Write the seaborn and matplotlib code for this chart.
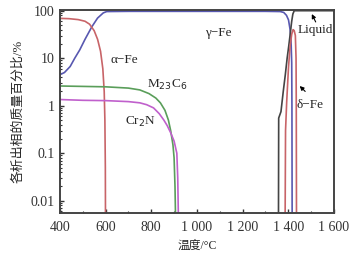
import numpy as np
import pandas as pd
import seaborn as sns
import matplotlib.pyplot as plt
from matplotlib.ticker import FixedLocator, FixedFormatter, LogLocator, NullFormatter

# Temperaturas (°C) e frações mássicas (%)
gamma_t = [400, 420, 445, 465, 487, 510, 540, 565, 590, 605, 700, 1000, 1300, 1365, 1380, 1392, 1401, 1408, 1412, 1415, 1416, 1417]
gamma_v = [4.5, 5.0, 6.7, 10, 15, 25, 46, 70, 90, 96, 97, 97, 97, 96, 92, 80, 64, 40, 24, 8, 1, 0.003]

alpha_t = [400, 440, 480, 510, 530, 550, 565, 578, 588, 594, 597, 599, 600]
alpha_v = [69, 68, 65, 60, 52, 38, 25, 14, 6, 2, 0.5, 0.05, 0.001]

m23_t = [400, 500, 600, 700, 750, 790, 820, 840, 860, 875, 885, 895, 900, 904, 907]
m23_v = [2.6, 2.55, 2.5, 2.35, 2.15, 1.8, 1.45, 1.15, 0.8, 0.5, 0.3, 0.15, 0.08, 0.02, 0.003]

cr2n_t = [400, 500, 600, 700, 750, 780, 810, 835, 855, 870, 885, 900, 912, 916, 919]
cr2n_v = [1.35, 1.3, 1.28, 1.22, 1.15, 1.05, 0.9, 0.68, 0.5, 0.38, 0.27, 0.18, 0.1, 0.03, 0.004]

liq_t = [1357, 1358, 1368, 1378, 1387, 1395, 1402, 1409, 1415, 1420, 1426, 1600]
liq_v = [0.003, 0.55, 0.75, 2, 4.5, 10, 18, 34, 60, 85, 100, 100]

delta_t = [1386, 1388, 1393, 1401, 1408, 1415, 1421, 1426, 1431, 1434, 1435, 1436]
delta_v = [0.003, 0.3, 1.2, 6.5, 18, 32, 40, 38, 30, 10, 1, 0.003]

series = [
    (gamma_t, gamma_v, "#5858b0"),
    (alpha_t, alpha_v, "#c86468"),
    (m23_t, m23_v, "#5a9e5a"),
    (cr2n_t, cr2n_v, "#c060cc"),
    (liq_t, liq_v, "#444444"),
    (delta_t, delta_v, "#c86468"),
]

sns.set_style("ticks")
plt.rcParams['font.family'] = ['Liberation Serif', 'Noto Sans CJK SC']
plt.rcParams['axes.unicode_minus'] = False

fig = plt.figure(figsize=(3.63, 2.57), dpi=100)
ax = fig.add_axes([0.165, 0.171, 0.755, 0.792])

for t, v, c in series:
    d = pd.DataFrame({'T': t, 'v': v})
    sns.lineplot(data=d, x='T', y='v', ax=ax, color=c, lw=1.2, sort=False, estimator=None)

ax.set_yscale('log')
ax.set_xlim(400, 1600)
ax.set_ylim(0.0055, 106)

ax.xaxis.set_major_locator(FixedLocator([400, 600, 800, 1000, 1200, 1400, 1600]))
ax.xaxis.set_major_formatter(FixedFormatter(['400', '600', '800', '1 000', '1 200', '1 400', '1 600']))
ax.xaxis.set_minor_locator(FixedLocator([500, 700, 900, 1100, 1300, 1500]))
ax.yaxis.set_major_locator(FixedLocator([0.01, 0.1, 1, 10, 100]))
ax.yaxis.set_major_formatter(FixedFormatter(['0.01', '0.1', '1', '10', '100']))
ax.yaxis.set_minor_locator(LogLocator(base=10, subs=np.arange(2, 10)))
ax.yaxis.set_minor_formatter(NullFormatter())

ax.tick_params(which='major', direction='in', length=3, width=1, labelsize=10, colors='#333333', pad=4)
ax.tick_params(which='minor', direction='in', length=1.5, width=0.8, colors='#333333')
ax.tick_params(axis='x', pad=6)
for s in ax.spines.values():
    s.set_color('#444444')
    s.set_linewidth(1.4)

ax.set_xlabel('温度/°C', fontsize=8.5, labelpad=4)
ax.set_ylabel('各析出相的质量百分比/%', fontsize=9.3, labelpad=4)

fs = 9.5
ax.text(1093, 34, 'γ−Fe', fontsize=fs, ha='center', va='center')
ax.text(680, 9.3, 'α−Fe', fontsize=fs, ha='center', va='center')
ax.text(871, 2.75, r'M$_{23}$C$_6$', fontsize=fs, ha='center', va='center')
ax.text(751, 0.45, r'Cr$_2$N', fontsize=fs, ha='center', va='center')
ax.text(1518, 40, 'Liquid', fontsize=fs, ha='center', va='center')
ax.text(1496, 1.05, 'δ−Fe', fontsize=fs, ha='center', va='center')

arrow = dict(arrowstyle='-|>', color='black', lw=0.8, mutation_scale=6, shrinkA=0, shrinkB=0)
ax.annotate('', xy=(1503, 85), xytext=(1520, 58), arrowprops=arrow)
ax.annotate('', xy=(1450, 2.6), xytext=(1474, 2.0), arrowprops=arrow)

fig.savefig('out.png', dpi=100)
